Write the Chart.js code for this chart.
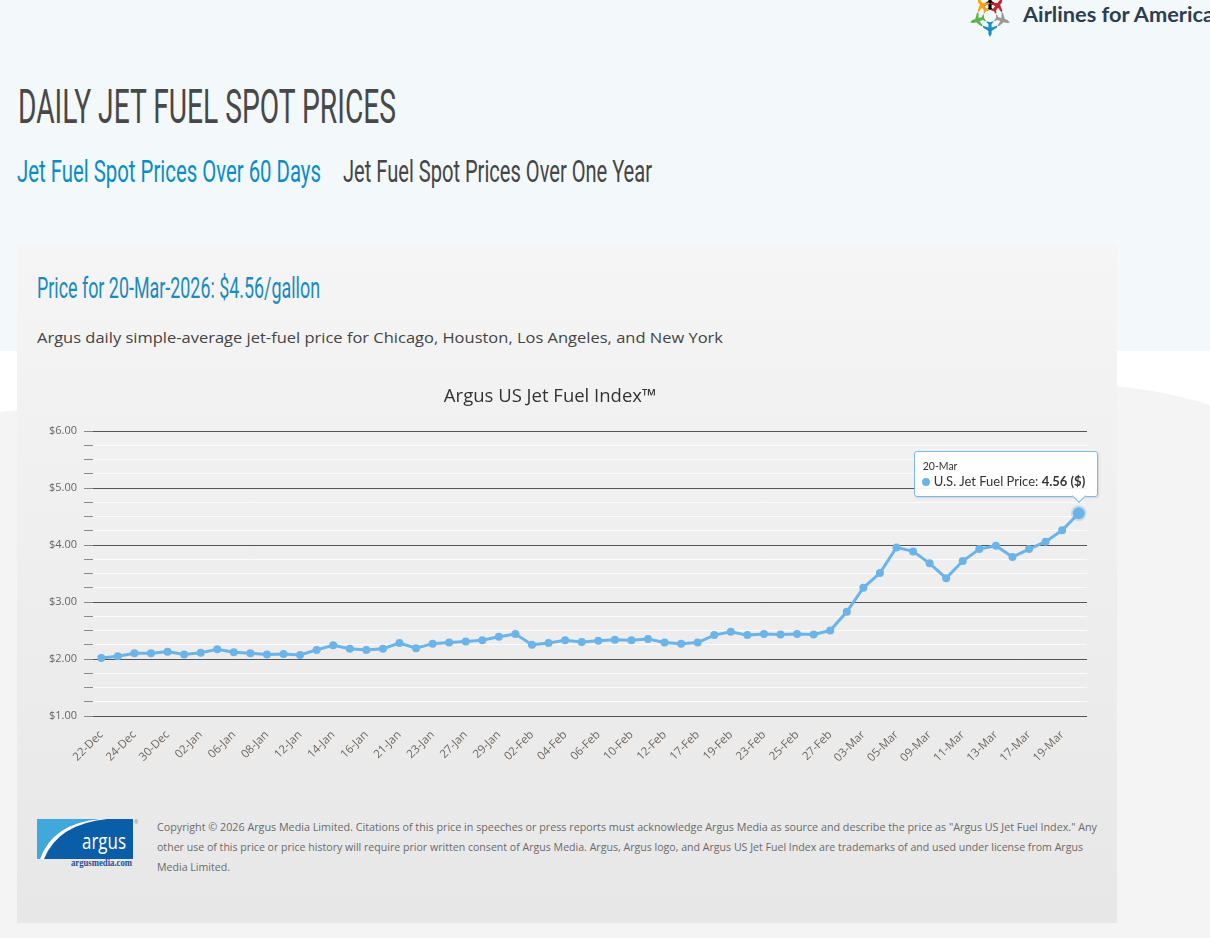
<!DOCTYPE html>
<html lang="en">
<head>
<meta charset="UTF-8">
<meta name="viewport" content="width=device-width, initial-scale=1.0">
<title>Daily Jet Fuel Spot Prices</title>
<script src="https://cdn.jsdelivr.net/npm/chart.js"></script>
<style>
    body {
        margin: 0;
        width: 1210px;
        height: 938px;
        overflow: hidden;
        position: relative;
        background: #f4f4f4;
        font-family: 'Open Sans', sans-serif;
    }
    #sky {
        position: absolute;
        left: 0; top: 0;
        width: 1210px; height: 352px;
        background: #f3f8fb;
    }
    #swoosh { position: absolute; left: 0; top: 351px; }
    .abs { position: absolute; white-space: nowrap; }
    .cond {
        font-family: Roboto, sans-serif;
        line-height: 1;
        display: inline-block;
        transform-origin: left top;
    }
    #a4a {
        left: 1023px; top: 4px;
        font-family: Lato, sans-serif;
        font-weight: 700;
        font-size: 20px;
        line-height: 1;
        color: #2c3e50;
        display: inline-block;
        transform-origin: left top;
    }
    #title { left: 18px; top: 82px; font-size: 49px; color: #484848; }
    #tab1 { left: 17px; top: 155px; font-size: 32px; color: #0a8dc7; }
    #tab2 { left: 343px; top: 155px; font-size: 32px; color: #454545; }
    #panel {
        position: absolute;
        left: 17px; top: 245px;
        width: 1100px; height: 678px;
        background: linear-gradient(#f5f5f5, #e7e7e7);
    }
    #price { left: 37px; top: 273px; font-size: 30px; color: #1a8abf; }
    #desc {
        left: 37px; top: 331px;
        font-size: 14.4px; line-height: 1;
        color: #444;
        display: inline-block;
        transform-origin: left top;
    }
    #chart-box {
        position: absolute;
        left: 0; top: 375px;
        width: 1097px; height: 400px;
    }
    #tip {
        position: absolute;
        box-sizing: border-box;
        width: 184px; height: 46px;
        background: rgba(255,255,255,0.93);
        border: 1px solid #7db9e4;
        border-radius: 3px;
        box-shadow: 1px 1px 2px rgba(0,0,0,0.12);
        font-family: Lato, sans-serif;
        color: #333;
    }
    #tip .tt { position: absolute; left: 8px; top: 8px; font-size: 10.5px; }
    #tip .tb { position: absolute; left: 7px; top: 21px; font-size: 13px; white-space: nowrap; }
    #tip .dot {
        display: inline-block;
        width: 8px; height: 8px;
        border-radius: 50%;
        background: #6cb4e8;
        margin-right: 4px;
    }
    #tip .caret {
        position: absolute;
        width: 9px; height: 9px;
        background: #fff;
        border-right: 1px solid #7db9e4;
        border-bottom: 1px solid #7db9e4;
        transform: rotate(45deg);
        top: 39px;
    }
    .foot {
        left: 157px;
        font-size: 11.3px;
        line-height: 20px;
        color: #6a6a6a;
        display: inline-block;
        transform-origin: left top;
    }
</style>
</head>
<body>
    <div id="sky"></div>
    <svg id="swoosh" width="1210" height="70">
        <path d="M0,0 H1210 V54 Q1140,31 1000,27 Q400,18 0,61 Z" fill="#ffffff"/>
    </svg>

    <svg class="abs" style="left:967px; top:-6px" width="48" height="44">
        <g transform="translate(23,22)">
            <g id="plane"><path d="M0,-21 L1.6,-18 L1.6,-15 L7,-11.5 L7,-9.8 L1.6,-11.5 L1.6,-8 L3.4,-6.3 L3.4,-5.2 L0,-6.3 L-3.4,-5.2 L-3.4,-6.3 L-1.6,-8 L-1.6,-11.5 L-7,-9.8 L-7,-11.5 L-1.6,-15 L-1.6,-18 Z"/></g>
            <use href="#plane" transform="rotate(-36)" fill="#f5a31a"/>
            <use href="#plane" transform="rotate(36)" fill="#c0272d"/>
            <use href="#plane" transform="rotate(108)" fill="#9a9a9a"/>
            <use href="#plane" transform="rotate(180)" fill="#1b8ccc"/>
            <use href="#plane" transform="rotate(252)" fill="#5fb346"/>
        </g>
    </svg>
    <div id="a4a" class="abs">Airlines for America</div>

    <div id="title" class="abs cond">DAILY JET FUEL SPOT PRICES</div>
    <div id="tab1" class="abs cond">Jet Fuel Spot Prices Over 60 Days</div>
    <div id="tab2" class="abs cond">Jet Fuel Spot Prices Over One Year</div>

    <div id="panel"></div>
    <div id="price" class="abs cond"></div>
    <div id="desc" class="abs">Argus daily simple-average jet-fuel price for Chicago, Houston, Los Angeles, and New York</div>

    <div id="chart-box"><canvas id="fuelChart"></canvas></div>
    <div id="tip"><div class="tt"></div><div class="tb"><span class="dot"></span><span class="nm"></span>: <b class="val"></b></div><div class="caret"></div></div>

    <svg class="abs" style="left:37px; top:819px" width="102" height="50">
        <rect width="96" height="40" fill="#0a5ea8"/>
        <path d="M0,0 H63 Q16,4 3,40 H0 Z" fill="#40a8dc"/>
        <path d="M3,40 Q16,4 63,0 H70 Q21,5 7,40 Z" fill="#ffffff"/>
        <text x="89" y="30" fill="#fff" font-family="Open Sans, sans-serif" font-size="22" text-anchor="end" textLength="44" lengthAdjust="spacingAndGlyphs">argus</text>
        <text x="34" y="46.5" fill="#1f4e96" font-family="Liberation Serif, serif" font-weight="700" font-size="10" textLength="61" lengthAdjust="spacingAndGlyphs">argusmedia.com</text>
        <text x="97" y="5" fill="#888" font-size="5">®</text>
    </svg>
    <div id="f1" class="abs foot" style="top:817px">Copyright © 2026 Argus Media Limited. Citations of this price in speeches or press reports must acknowledge Argus Media as source and describe the price as "Argus US Jet Fuel Index." Any</div>
    <div id="f2" class="abs foot" style="top:837px">other use of this price or price history will require prior written consent of Argus Media. Argus, Argus logo, and Argus US Jet Fuel Index are trademarks of and used under license from Argus</div>
    <div id="f3" class="abs foot" style="top:857px">Media Limited.</div>

<script>
    // trading days shown on the x axis
    const labels = ['22-Dec','23-Dec','24-Dec','29-Dec','30-Dec','31-Dec',
        '02-Jan','05-Jan','06-Jan','07-Jan','08-Jan','09-Jan','12-Jan','13-Jan','14-Jan','15-Jan',
        '16-Jan','20-Jan','21-Jan','22-Jan','23-Jan','26-Jan','27-Jan','28-Jan','29-Jan','30-Jan',
        '02-Feb','03-Feb','04-Feb','05-Feb','06-Feb','09-Feb','10-Feb','11-Feb','12-Feb','13-Feb',
        '17-Feb','18-Feb','19-Feb','20-Feb','23-Feb','24-Feb','25-Feb','26-Feb','27-Feb',
        '02-Mar','03-Mar','04-Mar','05-Mar','06-Mar','09-Mar','10-Mar','11-Mar','12-Mar','13-Mar',
        '16-Mar','17-Mar','18-Mar','19-Mar','20-Mar'];

    // $/gallon
    const prices = [2.02, 2.05, 2.10, 2.10, 2.13, 2.08,
        2.11, 2.17, 2.12, 2.10, 2.08, 2.09, 2.07, 2.16, 2.24, 2.18,
        2.16, 2.18, 2.28, 2.19, 2.27, 2.29, 2.31, 2.33, 2.39, 2.44,
        2.25, 2.28, 2.33, 2.30, 2.32, 2.34, 2.33, 2.35, 2.29, 2.27,
        2.29, 2.42, 2.48, 2.42, 2.44, 2.43, 2.44, 2.43, 2.50,
        2.83, 3.25, 3.51, 3.96, 3.89, 3.68, 3.42, 3.72, 3.93, 3.99,
        3.79, 3.93, 4.06, 4.26, 4.56];

    const yTicks = [1, 2, 3, 4, 5, 6];
    const seriesName = 'U.S. Jet Fuel Price';
    const chartTitle = 'Argus US Jet Fuel Index™';
    const priceDate = '20-Mar-2026';

    const last = prices.length - 1;
    const blue = '#6cb4e8';

    document.getElementById('price').textContent =
        'Price for ' + priceDate + ': $' + prices[last].toFixed(2) + '/gallon';

    // squeeze text into the widths of the condensed original
    function fit(id, w) {
        const el = document.getElementById(id);
        const r = w / el.getBoundingClientRect().width;
        el.style.transform = 'scaleX(' + r + ')';
        return r;
    }
    fit('title', 378);
    fit('tab1', 304);
    fit('tab2', 309);
    fit('price', 283);
    fit('desc', 686);
    fit('a4a', 191);
    fit('f1', 940);
    const r2 = fit('f2', 926);
    document.getElementById('f3').style.transform = 'scaleX(' + r2 + ')';

    Chart.defaults.font.family = "'Open Sans', sans-serif";

    const ctx = document.getElementById('fuelChart').getContext('2d');
    const chart = new Chart(ctx, {
        type: 'line',
        data: {
            labels: labels,
            datasets: [{
                label: seriesName,
                data: prices,
                borderColor: blue,
                backgroundColor: blue,
                borderWidth: 3,
                tension: 0,
                pointRadius: c => c.dataIndex === last ? 6 : 4,
                pointBorderWidth: c => c.dataIndex === last ? 4 : 0,
                pointBorderColor: c => c.dataIndex === last ? 'rgba(108,180,232,0.3)' : blue,
                pointBackgroundColor: blue
            }]
        },
        options: {
            responsive: true,
            maintainAspectRatio: false,
            animation: false,
            layout: { padding: { left: 7, right: 4, top: 0, bottom: 0 } },
            plugins: {
                legend: { display: false },
                tooltip: { enabled: false },
                title: {
                    display: true,
                    text: chartTitle,
                    color: '#333',
                    font: { size: 18.5, weight: 'normal' },
                    padding: { top: 11, bottom: 23 }
                }
            },
            scales: {
                x: {
                    offset: true,
                    grid: { display: false },
                    border: { display: false },
                    ticks: {
                        autoSkip: false,
                        minRotation: 45,
                        maxRotation: 45,
                        padding: 4,
                        color: '#6f6760',
                        font: { size: 11.5 },
                        callback: (v, i) => i % 2 === 0 ? labels[i] : ''
                    },
                    afterFit: s => { s.height = 59; }
                },
                y: {
                    min: yTicks[0],
                    max: yTicks[yTicks.length - 1],
                    border: { display: false },
                    grid: {
                        color: c => yTicks.includes(c.tick.value) ? '#555' : 'rgba(255,255,255,0.8)',
                        tickColor: '#8a8a8a',
                        tickLength: 9
                    },
                    ticks: {
                        autoSkip: false,
                        stepSize: 0.25,
                        padding: 7,
                        color: '#666',
                        font: { size: 11 },
                        callback: v => yTicks.includes(v) ? '$' + v.toFixed(2) : ''
                    },
                    afterFit: s => { s.width = 86; }
                }
            }
        }
    });

    // static hover box on the latest point
    const pt = chart.getDatasetMeta(0).data[last];
    const box = document.getElementById('chart-box');
    const px = box.offsetLeft + pt.x;
    const py = box.offsetTop + pt.y;
    const tip = document.getElementById('tip');
    tip.style.left = (px - 165) + 'px';
    tip.style.top = (py - 62) + 'px';
    tip.querySelector('.tt').textContent = labels[last];
    tip.querySelector('.nm').textContent = seriesName;
    tip.querySelector('.val').textContent = prices[last].toFixed(2) + ' ($)';
    tip.querySelector('.caret').style.left = (165 - 6) + 'px';
</script>
</body>
</html>
